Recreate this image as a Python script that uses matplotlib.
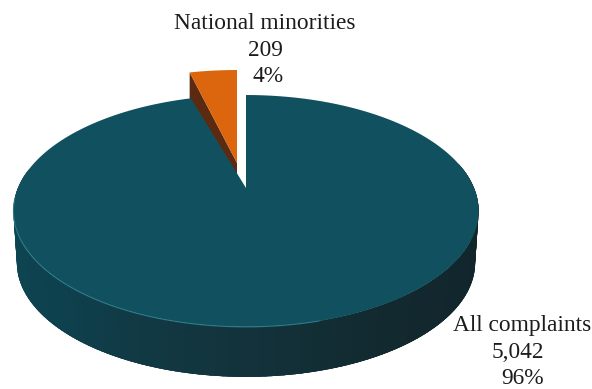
import numpy as np
import matplotlib
matplotlib.use('Agg')
import matplotlib.pyplot as plt
from matplotlib.colors import to_rgb

# complaint counts
categories = ['National minorities', 'All complaints']
counts = [209, 5042]
count_labels = ['209', '5,042']
percent_labels = ['4%', '96%']

# disc projection, pixels
cx, cy = 246, 188
a, b, k = 228, 111.4, 0.198
depth = 52
slice_shift = (-9, -25)
gap_deg = 2.4  # clearance left by the pulled out slice

top_col = '#11515f'
orange = '#dc660e'
brown = '#5c2a10'
wall_angles = [170, 225, 265, 300, 370]
wall_cols = ['#0d4755', '#0e414e', '#13343d', '#12292f', '#11242a']


def project(theta, r=1.0, dy=0.0, scale=1.0):
    # tilted disc, far side is smaller
    t = np.radians(theta)
    x = r * np.cos(t)
    y = r * np.sin(t)
    w = 1 + k * y
    return cx + scale * a * x / w, cy - scale * b * y / w + dy


def wedge(t1, t2):
    theta = np.linspace(t1, t2, 300)
    x, y = project(theta)
    return np.r_[cx, x, cx], np.r_[cy, y, cy]


fig = plt.figure(figsize=(5.92, 3.89), dpi=100)
ax = fig.add_axes([0, 0, 1, 1])
ax.set_xlim(0, 592)
ax.set_ylim(389, 0)
ax.axis('off')

sweep = 360.0 * np.array(counts) / sum(counts)
small_end = 90 + sweep[0]

# pulled out slice with its cut face
sx, sy = wedge(90, small_end)
sx = sx + slice_shift[0]
sy = sy + slice_shift[1]
edge_x = np.array([sx[-2], sx[0]])
edge_y = np.array([sy[-2], sy[0]])
ax.fill(np.r_[edge_x, edge_x[::-1]], np.r_[edge_y, edge_y[::-1] + depth],
        color=brown, lw=0)
ax.fill(sx, sy, color=orange, lw=0)

# outer wall of the big slice, strips overlap so no seams show
wall_rgb = np.array([to_rgb(c) for c in wall_cols])
edges = np.linspace(wall_angles[0], wall_angles[-1], 161)
for t1, t2 in zip(edges[:-1], edges[1:]):
    tt = np.linspace(t1, t2 + 3, 6)
    x1, y1 = project(tt)
    x2, y2 = project(tt[::-1], dy=depth, scale=0.985)
    col = [np.interp((t1 + t2) / 2, wall_angles, wall_rgb[:, i]) for i in range(3)]
    ax.fill(np.r_[x1, x2], np.r_[y1, y2], color=col, lw=0)

# top of the big slice
mx, my = wedge(small_end + gap_deg, 450)
ax.fill(mx, my, color=top_col, lw=0)

# light rim along the front edge
rx, ry = project(np.linspace(185, 285, 120))
ax.plot(rx, ry, color='#3a8c9b', lw=0.8, alpha=0.7)

font = dict(family=['Liberation Serif', 'DejaVu Serif'], color='#1c1c1c',
            fontsize=16.8, ha='center', va='center')
ax.text(265, 23, categories[0], **font)
ax.text(265, 50, count_labels[0], **font)
ax.text(268, 76, percent_labels[0], **font)
ax.text(522, 325, categories[1], **font)
ax.text(518, 352, count_labels[1], **font)
ax.text(523, 378, percent_labels[1], **font)

fig.savefig('out.png', dpi=100)
